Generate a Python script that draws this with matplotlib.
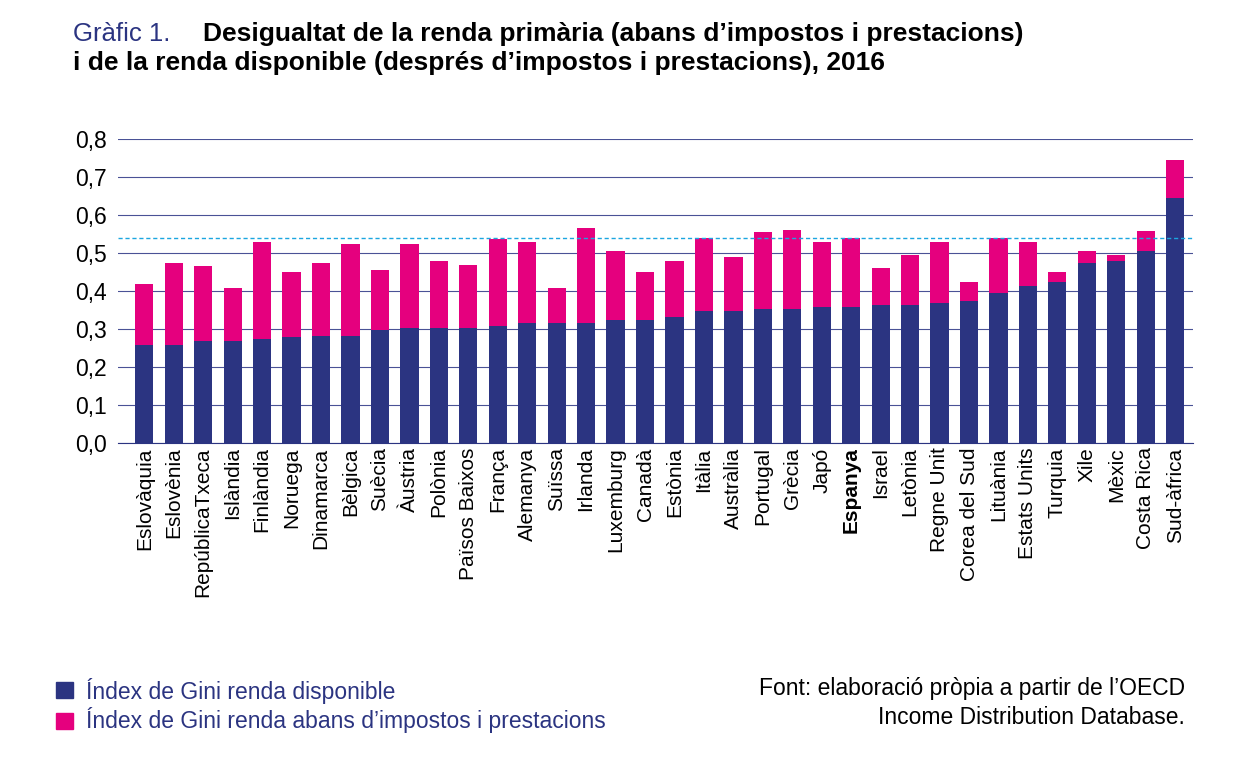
import matplotlib.pyplot as plt
import numpy as np

countries = ["Eslovàquia", "Eslovènia", "RepúblicaTxeca", "Islàndia", "Finlàndia", "Noruega",
             "Dinamarca", "Bèlgica", "Suècia", "Àustria", "Polònia", "Països Baixos", "França",
             "Alemanya", "Suïssa", "Irlanda", "Luxemburg", "Canadà", "Estònia", "Itàlia",
             "Austràlia", "Portugal", "Grècia", "Japó", "Espanya", "Israel", "Letònia",
             "Regne Unit", "Corea del Sud", "Lituània", "Estats Units", "Turquia", "Xile",
             "Mèxic", "Costa Rica", "Sud-àfrica"]
gini_disposable = [0.258, 0.258, 0.268, 0.268, 0.274, 0.278, 0.280, 0.280, 0.296, 0.302, 0.302,
                   0.302, 0.306, 0.314, 0.314, 0.314, 0.324, 0.324, 0.330, 0.346, 0.346, 0.352,
                   0.352, 0.358, 0.358, 0.362, 0.362, 0.368, 0.372, 0.394, 0.412, 0.424, 0.472,
                   0.478, 0.504, 0.644]
gini_primary = [0.418, 0.472, 0.465, 0.406, 0.527, 0.450, 0.472, 0.522, 0.455, 0.522, 0.477,
                0.467, 0.537, 0.527, 0.406, 0.566, 0.505, 0.450, 0.478, 0.538, 0.488, 0.554,
                0.560, 0.527, 0.538, 0.461, 0.494, 0.527, 0.422, 0.540, 0.527, 0.450, 0.505,
                0.494, 0.556, 0.744]
spain_line = 0.538

NAVY = "#2B3481"
PINK = "#E5007E"
plt.rcParams["font.family"] = ["Liberation Sans", "DejaVu Sans"]

fig = plt.figure(figsize=(12.53, 7.63), dpi=100)
ax = fig.add_axes([0.094, 0.42, 0.858, 0.398])
x = np.arange(len(countries))
diff = np.array(gini_primary) - np.array(gini_disposable)
ax.bar(x, gini_disposable, width=0.62, color=NAVY, zorder=3)
ax.bar(x, diff, bottom=gini_disposable, width=0.62, color=PINK, zorder=3)
ax.axhline(spain_line, color="#1BA6E0", linestyle=(0, (3, 2)), linewidth=1, zorder=4)

ax.set_ylim(0, 0.8)
ax.set_xlim(-0.9, len(countries) - 0.4)
ax.set_yticks(np.arange(0, 0.81, 0.1))
ax.set_yticklabels([f"{v:.1f}".replace(".", ",") for v in np.arange(0, 0.81, 0.1)], fontsize=16.5)
ax.yaxis.grid(True, color="#4A5296", linewidth=0.8, zorder=0)
for s in ["top", "right", "left"]:
    ax.spines[s].set_visible(False)
ax.spines["bottom"].set_color(NAVY)
ax.tick_params(axis="y", length=0, pad=8)
ax.tick_params(axis="x", length=0)
ax.set_xticks(x)
ax.set_xticklabels(countries, rotation=90, fontsize=15)
for lab in ax.get_xticklabels():
    if lab.get_text() == "Espanya":
        lab.set_fontweight("bold")

fig.text(0.058, 0.955, "Gràfic 1.", color=NAVY, fontsize=18.5, va="center")
fig.text(0.162, 0.955, "Desigualtat de la renda primària (abans d’impostos i prestacions)",
         fontsize=19, fontweight="bold", va="center")
fig.text(0.058, 0.918, "i de la renda disponible (després d’impostos i prestacions), 2016",
         fontsize=19, fontweight="bold", va="center")

fig.patches.append(plt.Rectangle((0.045, 0.085), 0.013, 0.021, color=NAVY, transform=fig.transFigure))
fig.patches.append(plt.Rectangle((0.045, 0.045), 0.013, 0.021, color=PINK, transform=fig.transFigure))
fig.text(0.069, 0.095, "Índex de Gini renda disponible", color=NAVY, fontsize=16.5, va="center")
fig.text(0.069, 0.056, "Índex de Gini renda abans d’impostos i prestacions", color=NAVY, fontsize=16.5, va="center")
fig.text(0.946, 0.098, "Font: elaboració pròpia a partir de l’OECD", fontsize=16.5, ha="right", va="center")
fig.text(0.946, 0.059, "Income Distribution Database.", fontsize=16.5, ha="right", va="center")

fig.savefig("out.png", dpi=100, facecolor="white")
